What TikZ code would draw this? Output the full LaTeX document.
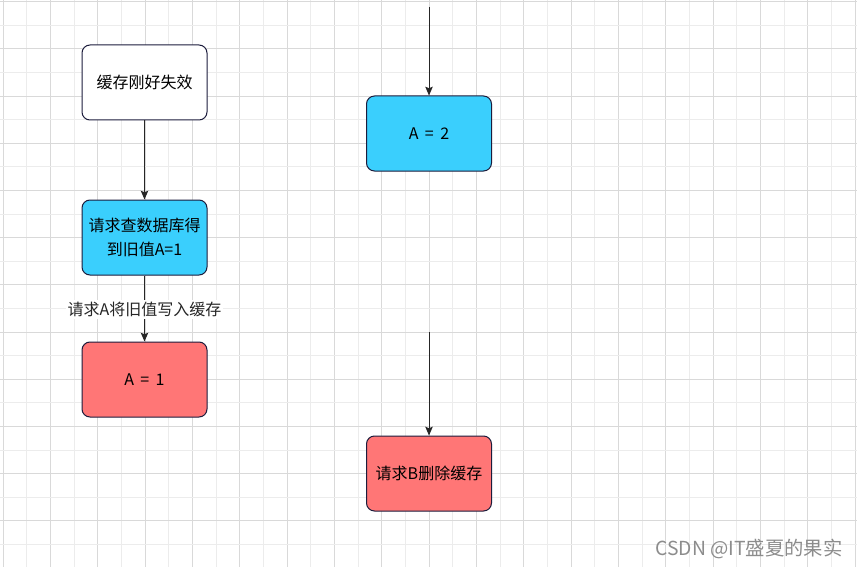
\documentclass[tikz,border=0pt]{standalone}
\usepackage{fontspec}
\setmainfont{Noto Sans CJK SC}
\usepackage{tikz}
\usetikzlibrary{arrows.meta}
\definecolor{gridmaj}{HTML}{D9D9D9}
\definecolor{gridmin}{HTML}{ECECEC}
\definecolor{edge}{HTML}{1C1C3C}
\definecolor{cyanbox}{HTML}{3ACFFD}
\definecolor{redbox}{HTML}{FF7676}
\definecolor{wmgray}{HTML}{8C8C8C}

\begin{document}
\begin{tikzpicture}[x=0.75pt,y=-0.75pt,font=\fontsize{12pt}{17.6pt}\selectfont,
  box/.style={draw=edge,line width=0.75pt,rounded corners=6pt,minimum width=93.75pt,minimum height=56.25pt,align=center,inner sep=2pt},
  flow/.style={-{Stealth[length=6.5pt,width=5.5pt,inset=1pt]},line width=0.75pt,black!85},
  lbl/.style={fill=white,inner sep=1.5pt,font=\fontsize{12pt}{14pt}\selectfont}]
  \fill[white] (0,0) rectangle (857,567);
  \useasboundingbox (0,0) rectangle (857,567);
  \foreach \i in {0,...,36} {
    \pgfmathsetmacro{\gx}{3.3+23.66*\i}
    \pgfmathtruncatemacro{\odd}{mod(\i,2)}
    \ifnum\odd=0 \draw[gridmaj,line width=0.75pt] (\gx,0) -- (\gx,567);
    \else \draw[gridmin,line width=0.75pt] (\gx,0) -- (\gx,567); \fi
  }
  \foreach \j in {0,...,23} {
    \pgfmathsetmacro{\gy}{1.7+23.6*\j}
    \pgfmathtruncatemacro{\odd}{mod(\j,2)}
    \ifnum\odd=0 \draw[gridmaj,line width=0.75pt] (0,\gy) -- (857,\gy);
    \else \draw[gridmin,line width=0.75pt] (0,\gy) -- (857,\gy); \fi
  }

  \node[box,fill=white]   (fail)  at (144.5,82.5)  {缓存刚好失效};
  \node[box,fill=cyanbox] (query) at (144.5,237.5) {请求查数据库得\\到旧值A=1};
  \node[box,fill=redbox]  (setA)  at (144.5,379.5) {A\hspace{0.4em}=\hspace{0.4em}1};
  \node[box,fill=cyanbox] (setB)  at (429,133.5)   {A\hspace{0.4em}=\hspace{0.4em}2};
  \node[box,fill=redbox]  (delB)  at (429,473.5)   {请求B删除缓存};
  \coordinate (topB) at (429,7);
  \coordinate (midB) at (429,332);

  \draw[flow] (fail) -- (query);
  \draw[flow] (query) -- (setA) node[lbl,pos=0.52] {请求A将旧值写入缓存};
  \draw[flow] (topB) -- (setB);
  \draw[flow] (midB) -- (delB);

  \node[wmgray,font=\fontsize{14.5pt}{16pt}\selectfont] (wm) at (749,549) {CSDN @IT盛夏的果实};
\end{tikzpicture}
\end{document}
